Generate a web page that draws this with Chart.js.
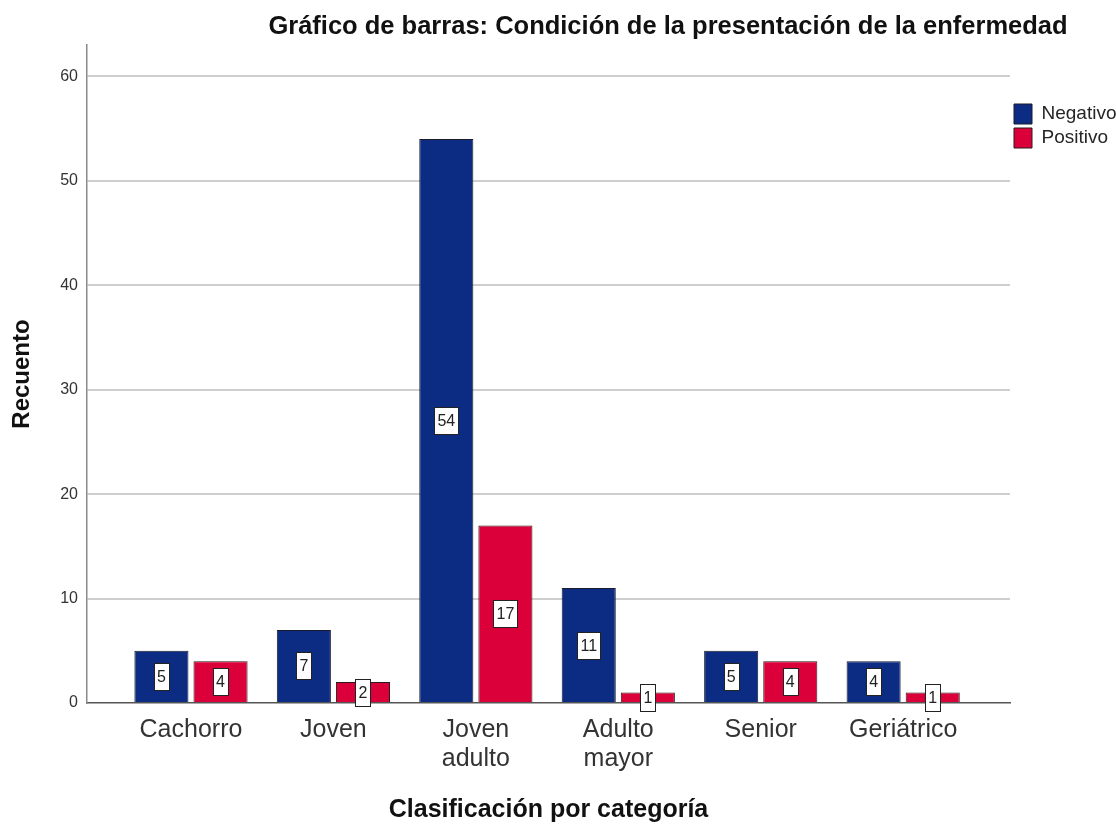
<!DOCTYPE html>
<html lang="es">
<head>
<meta charset="utf-8">
<title>Condición de la presentación de la enfermedad</title>
<script src="https://cdn.jsdelivr.net/npm/chart.js@4.4.1/dist/chart.umd.min.js"></script>
<style>
  html, body { margin: 0; padding: 0; background: #fff; }
</style>
</head>
<body>
<canvas id="barCondicion" width="1116" height="825"></canvas>
<script>
// Datos
const categorias = [['Cachorro'], ['Joven'], ['Joven', 'adulto'], ['Adulto', 'mayor'], ['Senior'], ['Geriátrico']];
const negativo = [5, 7, 54, 11, 5, 4];
const positivo = [4, 2, 17, 1, 4, 1];
const yTicks = [0, 10, 20, 30, 40, 50, 60];

const FONT = 'Arial, "Liberation Sans", sans-serif';
const AZUL = '#0c2c84';
const ROJO = '#dc003a';

Chart.defaults.font.family = FONT;
Chart.defaults.color = '#262626';

/**
 * Title drawn over the plot (SPSS puts it off-centre)
 */
const titlePlugin = {
  id: 'titlePlugin',
  afterDraw(chart) {
    const ctx = chart.ctx;
    ctx.save();
    ctx.font = 'bold 25.5px ' + FONT;
    ctx.fillStyle = '#111';
    ctx.textAlign = 'center';
    ctx.textBaseline = 'middle';
    ctx.fillText('Gráfico de barras: Condición de la presentación de la enfermedad', 668, 27);
    ctx.restore();
  }
};

/**
 * White boxed value labels in the middle of each bar
 */
const valueBoxPlugin = {
  id: 'valueBoxPlugin',
  afterDatasetsDraw(chart) {
    const ctx = chart.ctx;
    ctx.save();
    ctx.font = '16px ' + FONT;
    ctx.textAlign = 'center';
    ctx.textBaseline = 'middle';
    chart.data.datasets.forEach((ds, i) => {
      const meta = chart.getDatasetMeta(i);
      meta.data.forEach((bar, j) => {
        const txt = String(ds.data[j].y);
        const w = Math.round(ctx.measureText(txt).width + 6);
        const h = 27;
        const left = Math.round(bar.x - w / 2) + 0.5;
        const top = Math.round((bar.y + bar.base) / 2 - h / 2) + 0.5;
        ctx.fillStyle = '#fff';
        ctx.fillRect(left, top, w, h);
        ctx.strokeStyle = '#222';
        ctx.lineWidth = 1;
        ctx.strokeRect(left, top, w, h);
        ctx.fillStyle = '#222';
        ctx.fillText(txt, bar.x, top + h / 2 + 1);
      });
    });
    ctx.restore();
  }
};

const toPoints = arr => arr.map((v, i) => ({ x: i, y: v }));

new Chart(document.getElementById('barCondicion'), {
  type: 'bar',
  data: {
    datasets: [
      {
        label: 'Negativo',
        data: toPoints(negativo),
        backgroundColor: AZUL,
        borderColor: '#1a1a2a',
        borderWidth: 1,
        categoryPercentage: 0.83,
        barPercentage: 0.915
      },
      {
        label: 'Positivo',
        data: toPoints(positivo),
        backgroundColor: ROJO,
        borderColor: '#2a1a1a',
        borderWidth: 1,
        categoryPercentage: 0.83,
        barPercentage: 0.915
      }
    ]
  },
  options: {
    responsive: false,
    animation: false,
    devicePixelRatio: 1,
    layout: { padding: { top: 45, right: 0, bottom: 0, left: 0 } },
    scales: {
      x: {
        type: 'linear',
        offset: false,
        min: -0.73,
        max: 5.75,
        afterBuildTicks: s => { s.ticks = categorias.map((c, i) => ({ value: i })); },
        afterFit: s => { s.height = 122; },
        grid: { display: false, drawTicks: false, offset: false },
        border: { display: true, color: '#555', width: 1.5 },
        ticks: {
          autoSkip: false,
          maxRotation: 0,
          padding: 13,
          color: '#333',
          font: { size: 25, lineHeight: 1.15 },
          callback: v => categorias[v]
        },
        title: {
          display: true,
          text: 'Clasificación por categoría',
          color: '#111',
          font: { size: 25, weight: 'bold', lineHeight: 1.2 },
          padding: { top: 0, bottom: 0 }
        }
      },
      y: {
        min: 0,
        max: 63,
        afterBuildTicks: s => { s.ticks = yTicks.map(v => ({ value: v })); },
        afterFit: s => { s.width = 87; },
        grid: {
          drawTicks: false,
          lineWidth: 2,
          color: c => (c.tick && c.tick.value === 0 ? 'rgba(0,0,0,0)' : '#cfcfcf')
        },
        border: { display: true, color: '#8a8a8a', width: 1.5 },
        ticks: {
          padding: 9,
          color: '#333',
          font: { size: 16 }
        },
        title: {
          display: true,
          text: 'Recuento',
          color: '#111',
          font: { size: 24, weight: 'bold', lineHeight: 1.2 },
          padding: { top: 7.6, bottom: 0 }
        }
      }
    },
    plugins: {
      legend: {
        position: 'right',
        align: 'start',
        maxWidth: 106,
        title: { display: true, text: '', font: { size: 10, lineHeight: 1.2 }, padding: { top: 43, bottom: 0 } },
        labels: {
          boxWidth: 18,
          boxHeight: 20,
          padding: 4,
          color: '#262626',
          font: { size: 19 }
        }
      },
      tooltip: { enabled: false }
    }
  },
  plugins: [titlePlugin, valueBoxPlugin]
});
</script>
</body>
</html>
